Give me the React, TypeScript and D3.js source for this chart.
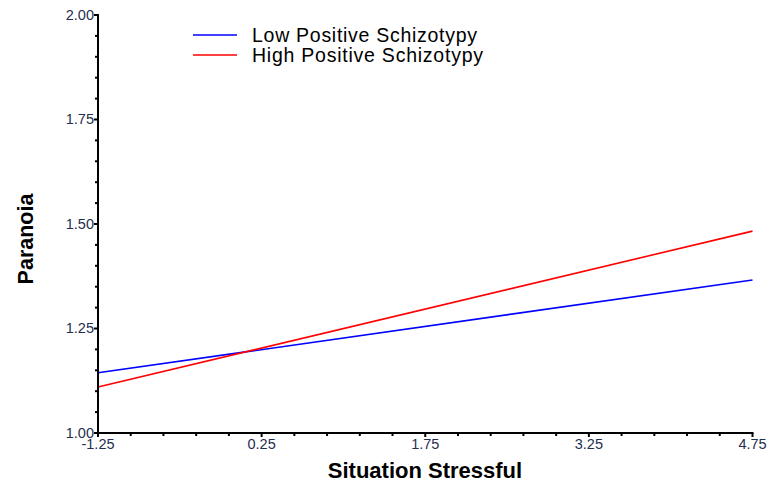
import React from "react";
import * as d3 from "d3";

const xDomain = [-1.25, 4.75];
const yDomain = [1.0, 2.0];
const xTickValues = [-1.25, 0.25, 1.75, 3.25, 4.75];
const yTickValues = [1.0, 1.25, 1.5, 1.75, 2.0];
const seriesNames = ["Low Positive Schizotypy", "High Positive Schizotypy"];
const seriesColors = ["#0000ff", "#ff0000"];
const lowValues = [
  { x: -1.25, y: 1.144 },
  { x: 4.75, y: 1.366 },
];
const highValues = [
  { x: -1.25, y: 1.11 },
  { x: 4.75, y: 1.483 },
];

const W = 769;
const H = 488;
const left = 98;
const right = 752.5;
const top = 15;
const bottom = 433;
const font = "'Liberation Sans', Arial, sans-serif";
const tickColor = "#1f2f4f";
const legendWidths = [225, 231];

export default function App() {
  const x = d3.scaleLinear().domain(xDomain).range([left, right]);
  const y = d3.scaleLinear().domain(yDomain).range([bottom, top]);
  const line = d3
    .line<{ x: number; y: number }>()
    .x((d) => x(d.x))
    .y((d) => y(d.y));

  // minor ticks: four between each pair of major ticks
  const xMinor: number[] = [];
  for (let i = 0; i < xTickValues.length - 1; i++) {
    const a = xTickValues[i];
    const b = xTickValues[i + 1];
    for (let k = 1; k < 5; k++) xMinor.push(a + ((b - a) * k) / 5);
  }
  const yMinor: number[] = [];
  for (let i = 0; i < yTickValues.length - 1; i++) {
    const a = yTickValues[i];
    const b = yTickValues[i + 1];
    for (let k = 1; k < 5; k++) yMinor.push(a + ((b - a) * k) / 5);
  }

  const series = [lowValues, highValues];

  return (
    <svg
      width={W}
      height={H}
      style={{ position: "absolute", left: 0, top: 0, background: "#fff" }}
    >
      {series.map((s, i) => (
        <path
          key={i}
          d={line(s) || ""}
          fill="none"
          stroke={seriesColors[i]}
          strokeWidth={1.6}
        />
      ))}

      {/* y axis */}
      <line x1={left} x2={left} y1={top - 1} y2={bottom} stroke="#000" strokeWidth={2} />
      {yTickValues.map((v) => (
        <g key={"yt" + v}>
          <line x1={left - 4} x2={left} y1={y(v)} y2={y(v)} stroke="#000" strokeWidth={2} />
          <text
            x={left - 4}
            y={y(v) + 4.5}
            textAnchor="end"
            fontFamily={font}
            fontSize={14.5}
            fill={tickColor}
          >
            {v.toFixed(2)}
          </text>
        </g>
      ))}
      {yMinor.map((v) => (
        <line key={"ym" + v} x1={left - 3} x2={left} y1={y(v)} y2={y(v)} stroke="#000" strokeWidth={2} />
      ))}

      {/* x axis */}
      <line x1={left - 1} x2={right + 1} y1={bottom} y2={bottom} stroke="#000" strokeWidth={2} />
      {xTickValues.map((v) => (
        <g key={"xt" + v}>
          <line x1={x(v)} x2={x(v)} y1={bottom} y2={bottom + 4} stroke="#000" strokeWidth={2} />
          <text
            x={x(v)}
            y={bottom + 16}
            textAnchor="middle"
            fontFamily={font}
            fontSize={14.5}
            fill={tickColor}
          >
            {v.toFixed(2)}
          </text>
        </g>
      ))}
      {xMinor.map((v) => (
        <line key={"xm" + v} x1={x(v)} x2={x(v)} y1={bottom} y2={bottom + 3} stroke="#000" strokeWidth={2} />
      ))}

      {/* axis titles */}
      <text
        x={425}
        y={478}
        textAnchor="middle"
        fontFamily={font}
        fontSize={22}
        fontWeight="bold"
        fill="#000"
      >
        Situation Stressful
      </text>
      <text
        transform={`translate(33,239) rotate(-90)`}
        textAnchor="middle"
        fontFamily={font}
        fontSize={21.5}
        fontWeight="bold"
        fill="#000"
      >
        Paranoia
      </text>

      {/* legend */}
      {seriesNames.map((name, i) => (
        <g key={name}>
          <line
            x1={193}
            x2={237}
            y1={35 + i * 20}
            y2={35 + i * 20}
            stroke={seriesColors[i]}
            strokeWidth={1.6}
          />
          <text
            x={252}
            y={35 + i * 20 + 7}
            fontFamily={font}
            fontSize={19.5}
            textLength={legendWidths[i]}
            lengthAdjust="spacing"
            fill="#000"
          >
            {name}
          </text>
        </g>
      ))}
    </svg>
  );
}
